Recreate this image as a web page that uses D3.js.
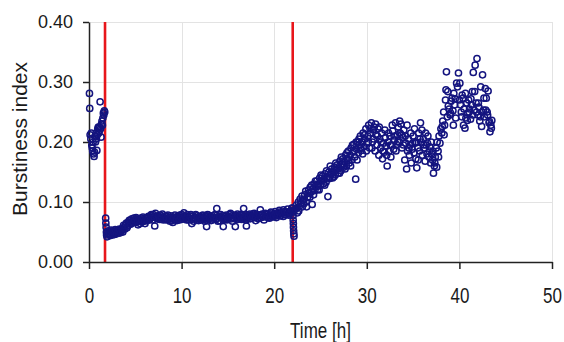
<!DOCTYPE html>
<html>
<head>
<meta charset="utf-8">
<script src="https://cdn.jsdelivr.net/npm/d3@7"></script>
<style>
  html, body { margin: 0; padding: 0; background: #fff; }
  svg { display: block; }
  text { font-family: "Liberation Sans", Arial, sans-serif; fill: #1a1a1a; }
</style>
</head>
<body>
<svg id="chart" width="564" height="342"></svg>
<script>
// ---------- data ----------
const xTicks = [0, 10, 20, 30, 40, 50];
const yTicks = [0.00, 0.10, 0.20, 0.30, 0.40];
const markerTimes = [1.73, 22.0];
const xLabel = "Time [h]";
const yLabel = "Burstiness index";

// before first marker
const baseline = [
  [0.05,0.281],[0.08,0.256],[0.12,0.212],[0.2,0.205],[0.25,0.215],[0.3,0.195],[0.35,0.19],[0.4,0.185],
  [0.45,0.2],[0.5,0.18],[0.55,0.176],[0.6,0.183],[0.65,0.21],[0.7,0.2],[0.75,0.215],[0.8,0.205],
  [0.85,0.186],[0.9,0.212],[0.95,0.222],[1.0,0.225],[1.05,0.215],[1.1,0.218],[1.15,0.225],[1.2,0.267],
  [1.25,0.222],[1.3,0.208],[1.35,0.23],[1.4,0.235],[1.45,0.228],[1.5,0.24],[1.55,0.248],[1.6,0.245],
  [1.65,0.252],[1.7,0.25]
];

// between the markers
const plateauA = [
  [1.8,0.073],[1.82,0.065],[1.85,0.058],[1.88,0.05],[1.9,0.045],[1.95,0.042],
  [2.0,0.047],[2.15,0.05],[2.3,0.044],[2.45,0.048],[2.6,0.052],[2.75,0.046],[2.9,0.05],[3.05,0.053],
  [3.2,0.048],[3.35,0.051],[3.5,0.055],[3.65,0.05],[3.8,0.058],[3.95,0.062],[4.1,0.057],[4.25,0.066],
  [4.4,0.07],[4.55,0.064],[4.7,0.068],[4.85,0.073],[5.0,0.066],[5.15,0.071],[5.3,0.062],[5.45,0.069],
  [5.6,0.073],[5.75,0.067],[5.9,0.07],[6.05,0.064],[6.2,0.072],[6.35,0.075],[6.5,0.07],[6.65,0.077],
  [6.8,0.074],[6.95,0.079],[7.1,0.06],[7.25,0.076],[7.4,0.072],[7.55,0.074],[7.7,0.078],[7.85,0.071],
  [8.0,0.075],[8.15,0.073],[8.3,0.077],[8.45,0.07],[8.6,0.074],[8.75,0.068],[8.9,0.072],[9.05,0.066],
  [9.2,0.071],[9.35,0.075],[9.5,0.069],[9.65,0.073],[9.8,0.078],[9.95,0.071],[10.1,0.074],[10.25,0.082],
  [10.4,0.076],[10.55,0.07],[10.7,0.075],[10.85,0.073],[11.0,0.079],[11.1,0.064],[11.3,0.068],[11.45,0.074],
  [11.6,0.077],[11.75,0.072],[11.9,0.075],[12.05,0.07],[12.2,0.077],[12.35,0.073],[12.5,0.068],[12.65,0.075],
  [12.7,0.059],[12.8,0.079],[12.95,0.072],[13.1,0.076],[13.25,0.07],[13.4,0.074],[13.55,0.078],[13.7,0.071],
  [13.8,0.089],[13.95,0.075],[14.1,0.069],[14.25,0.074],[14.4,0.077],[14.5,0.059],[14.6,0.072],[14.75,0.076],
  [14.9,0.07],[15.05,0.075],[15.2,0.079],[15.35,0.072],[15.5,0.068],[15.65,0.074],[15.8,0.059],[15.9,0.077],
  [16.05,0.071],[16.2,0.075],[16.35,0.079],[16.5,0.073],[16.7,0.089],[16.8,0.076],[16.95,0.07],[17.0,0.06],
  [17.1,0.074],[17.25,0.078],[17.4,0.072],[17.55,0.076],[17.7,0.08],[17.85,0.074],[18.0,0.069],[18.15,0.077],
  [18.3,0.073],[18.5,0.087],[18.6,0.079],[18.75,0.075],[18.9,0.07],[19.05,0.076],[19.2,0.08],[19.35,0.074],
  [19.5,0.078],[19.65,0.083],[19.8,0.075],[19.95,0.079],[20.1,0.084],[20.25,0.077],[20.4,0.081],[20.55,0.086],
  [20.7,0.078],[20.85,0.082],[21.0,0.087],[21.15,0.079],[21.3,0.083],[21.45,0.088],[21.6,0.08],[21.75,0.085],
  [21.9,0.09]
];
const plateauB = [
  [2.08,0.052],[2.23,0.046],[2.38,0.053],[2.53,0.045],[2.68,0.05],[2.83,0.054],[2.98,0.047],[3.13,0.051],
  [3.28,0.055],[3.43,0.049],[3.58,0.053],[3.73,0.061],[3.88,0.055],[4.03,0.065],[4.18,0.06],[4.33,0.069],
  [4.48,0.063],[4.63,0.072],[4.78,0.066],[4.93,0.07],[5.08,0.074],[5.23,0.067],[5.38,0.072],[5.53,0.064],
  [5.68,0.07],[5.83,0.075],[5.98,0.068],[6.13,0.073],[6.28,0.069],[6.43,0.076],[6.58,0.072],[6.73,0.079],
  [6.88,0.07],[7.03,0.075],[7.18,0.081],[7.33,0.073],[7.48,0.077],[7.63,0.071],[7.78,0.075],[7.93,0.08],
  [8.08,0.07],[8.23,0.076],[8.38,0.072],[8.53,0.078],[8.68,0.073],[8.83,0.077],[8.98,0.069],[9.13,0.074],
  [9.28,0.078],[9.43,0.072],[9.58,0.076],[9.73,0.07],[9.88,0.075],[10.03,0.079],[10.18,0.072],[10.33,0.077],
  [10.48,0.073],[10.63,0.079],[10.78,0.07],[10.93,0.076],[11.08,0.071],[11.23,0.077],[11.38,0.072],[11.53,0.079],
  [11.68,0.074],[11.83,0.069],[11.98,0.076],[12.13,0.073],[12.28,0.078],[12.43,0.071],[12.58,0.076],[12.73,0.072],
  [12.88,0.078],[13.03,0.073],[13.18,0.069],[13.33,0.077],[13.48,0.073],[13.63,0.079],[13.78,0.072],[13.93,0.068],
  [14.08,0.076],[14.23,0.079],[14.38,0.073],[14.53,0.077],[14.68,0.071],[14.83,0.078],[14.98,0.072],[15.13,0.076],
  [15.28,0.081],[15.43,0.074],[15.58,0.078],[15.73,0.072],[15.88,0.076],[16.03,0.08],[16.18,0.073],[16.33,0.077],
  [16.48,0.071],[16.63,0.078],[16.78,0.074],[16.93,0.079],[17.08,0.072],[17.23,0.076],[17.38,0.08],[17.53,0.073],
  [17.68,0.077],[17.83,0.081],[17.98,0.075],[18.13,0.079],[18.28,0.072],[18.43,0.078],[18.58,0.074],[18.73,0.08],
  [18.88,0.076],[19.03,0.081],[19.18,0.075],[19.33,0.079],[19.48,0.073],[19.63,0.078],[19.78,0.082],[19.93,0.076],
  [20.08,0.08],[20.23,0.074],[20.38,0.079],[20.53,0.083],[20.68,0.077],[20.83,0.081],[20.98,0.076],[21.13,0.084],
  [21.28,0.079],[21.43,0.083],[21.58,0.078],[21.73,0.082],[21.88,0.086]
];

// after second marker
const riseA = [
  [22.0,0.09],[22.02,0.083],[22.04,0.077],[22.05,0.07],[22.07,0.064],[22.08,0.058],[22.1,0.052],[22.12,0.047],[22.14,0.043],
  [22.3,0.088],[22.4,0.095],[22.5,0.082],[22.6,0.1],[22.7,0.092],[22.8,0.105],[22.9,0.098],[23.0,0.11],
  [23.1,0.103],[23.2,0.097],[23.3,0.112],[23.4,0.118],[23.5,0.092],[23.6,0.108],[23.7,0.12],[23.8,0.114],
  [23.9,0.125],[24.0,0.117],[24.1,0.096],[24.2,0.122],[24.3,0.13],[24.4,0.119],[24.5,0.127],[24.6,0.135],
  [24.7,0.121],[24.8,0.13],[24.9,0.14],[25.0,0.128],[25.1,0.136],[25.2,0.143],[25.3,0.13],[25.4,0.138],
  [25.5,0.147],[25.6,0.133],[25.7,0.142],[25.8,0.109],[25.9,0.15],[26.0,0.139],[26.1,0.146],[26.2,0.155],
  [26.3,0.14],[26.4,0.15],[26.5,0.158],[26.6,0.145],[26.7,0.153],[26.8,0.162],[26.9,0.148],[27.0,0.157],
  [27.1,0.168],[27.2,0.152],[27.3,0.163],[27.4,0.172],[27.5,0.158],[27.6,0.167],[27.7,0.178],[27.8,0.16],
  [27.9,0.172],[28.0,0.185],[28.1,0.165],[28.2,0.178],[28.3,0.19],[28.4,0.17],[28.5,0.183],[28.6,0.196],
  [28.7,0.175],[28.8,0.138],[28.9,0.188],[29.0,0.2],[29.1,0.182],[29.2,0.195],[29.3,0.21],[29.4,0.186],
  [29.5,0.2],[29.6,0.215],[29.7,0.192],[29.8,0.205],[29.9,0.222],[30.0,0.198],[30.1,0.21],[30.2,0.228],
  [30.3,0.19],[30.4,0.215],[30.5,0.232],[30.6,0.2],[30.7,0.22],[30.8,0.225],[30.9,0.185],[31.0,0.212],
  [31.1,0.195],[31.2,0.222],[31.3,0.178],[31.4,0.205],[31.5,0.19],[31.6,0.215],[31.7,0.172],[31.8,0.198],
  [31.9,0.183],[32.0,0.207],[32.1,0.193],[32.2,0.16],[32.3,0.2],[32.4,0.185],[32.5,0.21],[32.6,0.175],
  [32.7,0.195],[32.8,0.218],[32.9,0.188],[33.0,0.203],[33.1,0.232],[33.2,0.196],[33.3,0.212],[33.4,0.225],
  [33.5,0.2],[33.6,0.215],[33.7,0.23],[33.8,0.19],[33.9,0.208],[34.0,0.22],[34.1,0.17],[34.2,0.198],
  [34.3,0.155],[34.4,0.185],[34.5,0.205],[34.6,0.178],[34.7,0.195],[34.8,0.165],[34.9,0.188],[35.0,0.21],
  [35.1,0.182],[35.2,0.198],[35.3,0.172],[35.4,0.157],[35.5,0.19],[35.6,0.215],[35.7,0.185],[35.8,0.232],
  [35.9,0.2],[36.0,0.178],[36.1,0.205],[36.2,0.19],[36.3,0.168],[36.4,0.195],[36.5,0.18],[36.6,0.21],
  [36.7,0.175],[36.8,0.192],[36.9,0.165],[37.0,0.18],[37.1,0.17],[37.2,0.148],[37.3,0.16],[37.4,0.175],
  [37.5,0.19],[37.6,0.2],[37.7,0.185],[37.8,0.21],[37.9,0.198],[38.0,0.222],[38.1,0.215],[38.2,0.235],
  [38.3,0.25],[38.4,0.228],[38.5,0.27],[38.55,0.287],[38.6,0.317],[38.7,0.242],[38.8,0.26],[38.9,0.255],
  [39.0,0.245],[39.1,0.268],[39.2,0.273],[39.3,0.252],[39.4,0.281],[39.5,0.262],[39.6,0.24],[39.7,0.298],
  [39.8,0.292],[39.9,0.315],[40.0,0.27],[40.1,0.262],[40.2,0.25],[40.3,0.278],[40.4,0.273],[40.5,0.255],
  [40.6,0.223],[40.7,0.24],[40.8,0.265],[40.9,0.248],[41.0,0.27],[41.1,0.255],[41.2,0.238],[41.3,0.262],
  [41.4,0.284],[41.5,0.316],[41.6,0.253],[41.7,0.328],[41.8,0.265],[41.9,0.339],[42.0,0.245],[42.1,0.258],
  [42.2,0.235],[42.3,0.292],[42.4,0.226],[42.5,0.312],[42.6,0.253],[42.7,0.242],[42.8,0.289],[42.9,0.273],
  [43.0,0.25],[43.1,0.285],[43.2,0.232],[43.3,0.217],[43.4,0.228],[43.5,0.236]
];
const riseB = [
  [22.45,0.09],[22.65,0.085],[22.85,0.097],[23.05,0.092],[23.25,0.105],[23.45,0.1],[23.65,0.115],[23.85,0.108],
  [24.05,0.128],[24.25,0.112],[24.45,0.135],[24.65,0.126],[24.85,0.12],[25.05,0.145],[25.25,0.136],[25.45,0.128],
  [25.65,0.152],[25.85,0.14],[26.05,0.16],[26.25,0.148],[26.45,0.142],[26.65,0.165],[26.85,0.155],[27.05,0.148],
  [27.25,0.175],[27.45,0.162],[27.65,0.155],[27.85,0.182],[28.05,0.17],[28.25,0.16],[28.45,0.195],[28.65,0.185],
  [28.85,0.2],[28.95,0.17],[29.15,0.205],[29.35,0.19],[29.55,0.18],[29.75,0.212],[29.95,0.185],[30.15,0.2],
  [30.35,0.222],[30.55,0.19],[30.75,0.205],[30.95,0.23],[31.15,0.21],[31.35,0.225],[31.55,0.2],[31.75,0.185],
  [31.95,0.22],[32.15,0.178],[32.35,0.215],[32.55,0.195],[32.75,0.228],[32.95,0.21],[33.15,0.185],[33.35,0.2],
  [33.55,0.235],[33.75,0.212],[33.95,0.195],[34.15,0.21],[34.35,0.228],[34.55,0.19],[34.75,0.215],[34.95,0.198],
  [35.15,0.222],[35.35,0.2],[35.55,0.17],[35.75,0.205],[35.95,0.22],[36.15,0.195],[36.35,0.215],[36.55,0.198],
  [36.75,0.185],[36.95,0.2],[37.15,0.185],[37.35,0.165],[37.55,0.158],[37.75,0.175],[38.15,0.226],[38.35,0.212],
  [38.75,0.284],[39.05,0.248],[39.35,0.228],[39.55,0.272],[40.05,0.298],[40.25,0.242],[40.45,0.228],[40.65,0.281],
  [40.85,0.236],[41.05,0.25],[41.25,0.272],[41.45,0.245],[41.65,0.284],[41.85,0.25],[42.05,0.265],[42.25,0.242],
  [42.45,0.25],[42.65,0.273],[42.85,0.253],[43.05,0.245],[43.25,0.234],[43.45,0.223]
];

// ---------- drawing ----------
const W = 564, H = 342;
const mLeft = 89, mRight = 552, mTop = 22, mBottom = 262;
const svg = d3.select("#chart");

const x = d3.scaleLinear().domain([0, 50]).range([mLeft, mRight]);
const y = d3.scaleLinear().domain([0, 0.4]).range([mBottom, mTop]);

// grid
const grid = svg.append("g").attr("stroke", "#e3e3e3").attr("stroke-width", 1);
grid.selectAll("line.h").data(yTicks.filter(d => d > 0)).join("line")
  .attr("x1", mLeft).attr("x2", mRight)
  .attr("y1", d => Math.round(y(d)) + 0.5).attr("y2", d => Math.round(y(d)) + 0.5);
grid.selectAll("line.v").data(xTicks.filter(d => d > 0)).join("line")
  .attr("x1", d => Math.round(x(d)) + 0.5).attr("x2", d => Math.round(x(d)) + 0.5)
  .attr("y1", mTop).attr("y2", mBottom);

// marker lines
svg.append("g").selectAll("line").data(markerTimes).join("line")
  .attr("x1", d => x(d)).attr("x2", d => x(d))
  .attr("y1", mTop).attr("y2", mBottom)
  .attr("stroke", "#e8161b").attr("stroke-width", 2.6);

// axes
const yAxis = d3.axisLeft(y).tickValues(yTicks).tickFormat(d3.format(".2f"))
  .tickSize(6).tickPadding(10).tickSizeOuter(0);
const gy = svg.append("g").attr("transform", `translate(${mLeft},0)`).call(yAxis);
gy.select(".domain").attr("stroke", "#222").attr("stroke-width", 1.5);
gy.selectAll(".tick line").attr("stroke", "#222").attr("stroke-width", 1.5);
gy.selectAll(".tick text").attr("font-size", 18).attr("fill", "#1a1a1a")
  .attr("font-family", "'Liberation Sans', Arial, sans-serif");

const xAxis = d3.axisBottom(x).tickValues(xTicks).tickFormat(d3.format("d"))
  .tickSize(7).tickSizeOuter(0);
const gx = svg.append("g").attr("transform", `translate(0,${mBottom})`).call(xAxis);
gx.select(".domain").attr("stroke", "#222").attr("stroke-width", 1.5);
gx.selectAll(".tick line").attr("stroke", "#222").attr("stroke-width", 1.5);
const sy = 1.35;
gx.selectAll(".tick text").attr("font-size", 17).attr("fill", "#1a1a1a")
  .attr("font-family", "'Liberation Sans', Arial, sans-serif")
  .attr("dy", null).attr("y", 41 / sy).attr("transform", `scale(1,${sy})`);

// axis titles
svg.append("text").attr("text-anchor", "middle").attr("font-size", 17)
  .attr("transform", `scale(1,${sy})`)
  .attr("x", (mLeft + mRight) / 2).attr("y", 338 / sy).text(xLabel);
svg.append("text").attr("text-anchor", "middle").attr("font-size", 21)
  .attr("transform", "rotate(-90)")
  .attr("x", -139).attr("y", 27).text(yLabel);

// points
const allPts = [].concat(baseline, plateauA, plateauB, riseA, riseB);
svg.append("g").selectAll("circle").data(allPts).join("circle")
  .attr("cx", d => x(d[0])).attr("cy", d => y(d[1])).attr("r", 3.1)
  .attr("fill", "none").attr("stroke", "#14147f").attr("stroke-width", 1.5);
</script>
</body>
</html>
